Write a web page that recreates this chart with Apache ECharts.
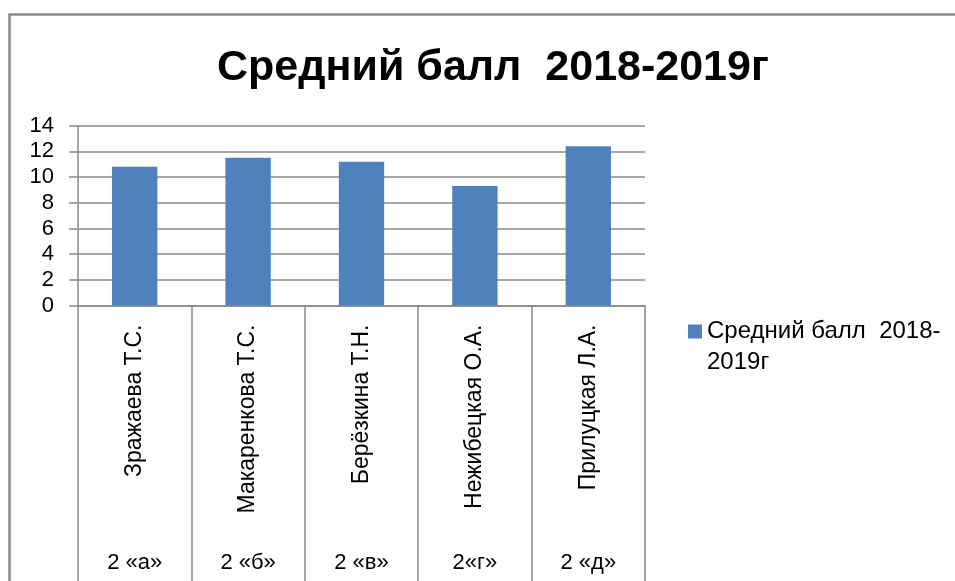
<!DOCTYPE html>
<html lang="ru" style="height: 100%">
<head>
  <meta charset="utf-8">
  <title>Средний балл 2018-2019г</title>
  <script src="https://cdn.jsdelivr.net/npm/echarts@6/dist/echarts.min.js"></script>
</head>
<body style="height: 100%; margin: 0; background: #fff">
<div id="main" style="width: 955px; height: 581px"></div>

<script type="text/javascript">
  // данные графика
  var teachers = ['Зражаева Т.С.', 'Макаренкова Т.С.', 'Берёзкина Т.Н.', 'Нежибецкая О.А.', 'Прилуцкая Л.А.'];
  var classes = ['2 «а»', '2 «б»', '2 «в»', '2«г»', '2 «д»'];
  var scores = [10.8, 11.5, 11.2, 9.3, 12.4];
  var seriesName = 'Средний балл  2018-2019г';

  var font = 'Liberation Sans, Arial, sans-serif';
  var gridColor = '#8a8a8a';

  var chart = echarts.init(document.getElementById('main'), null, {renderer: 'canvas'});

  chart.setOption({
    animation: false,
    backgroundColor: '#fff',
    title: {
      text: seriesName,
      left: 212,
      top: 42,
      textStyle: {fontFamily: font, fontSize: 43, fontWeight: 'bold', color: '#000'}
    },
    graphic: [{
      type: 'rect',
      shape: {x: 9.5, y: 14.5, width: 1000, height: 700},
      style: {fill: 'none', stroke: '#8a8a8a', lineWidth: 2.5},
      silent: true
    }],
    legend: {
      left: 683,
      top: 311,
      orient: 'vertical',
      itemWidth: 14,
      itemHeight: 45,
      itemGap: 0,
      // квадрат в верхней части, чтобы он стоял на уровне первой строки
      icon: 'path://M0,0h14v14h-14z M13.99,44.99h0.01v0.01h-0.01z',
      formatter: function () { return 'Средний балл  2018-\n2019г'; },
      textStyle: {fontFamily: font, fontSize: 24, color: '#000', lineHeight: 31}
    },
    grid: {left: 78, right: 310, top: 125.7, bottom: 275.5, containLabel: false},
    xAxis: [{
      type: 'category',
      position: 'bottom',
      data: teachers,
      axisLine: {lineStyle: {color: gridColor, width: 1.5}},
      axisTick: {show: true, length: 280, lineStyle: {color: gridColor, width: 1.5}},
      axisLabel: {rotate: 90, margin: 19, fontFamily: font, fontSize: 23, color: '#000'}
    }, {
      type: 'category',
      position: 'bottom',
      data: classes,
      axisLine: {show: false},
      axisTick: {show: false},
      axisLabel: {margin: 246, fontFamily: font, fontSize: 22, color: '#000'}
    }],
    yAxis: {
      type: 'value',
      min: 0,
      max: 14,
      interval: 2,
      axisLine: {show: true, lineStyle: {color: gridColor, width: 1.5}},
      axisTick: {show: true, length: 9, lineStyle: {color: gridColor, width: 1.5}},
      splitLine: {lineStyle: {color: gridColor, width: 1.5}},
      axisLabel: {margin: 24, fontFamily: font, fontSize: 22, color: '#000'}
    },
    series: [{
      name: seriesName,
      type: 'bar',
      xAxisIndex: 0,
      barWidth: '40%',
      data: scores,
      itemStyle: {color: '#4f81bd'}
    }]
  });

  window.addEventListener('resize', chart.resize);
</script>
</body>
</html>
